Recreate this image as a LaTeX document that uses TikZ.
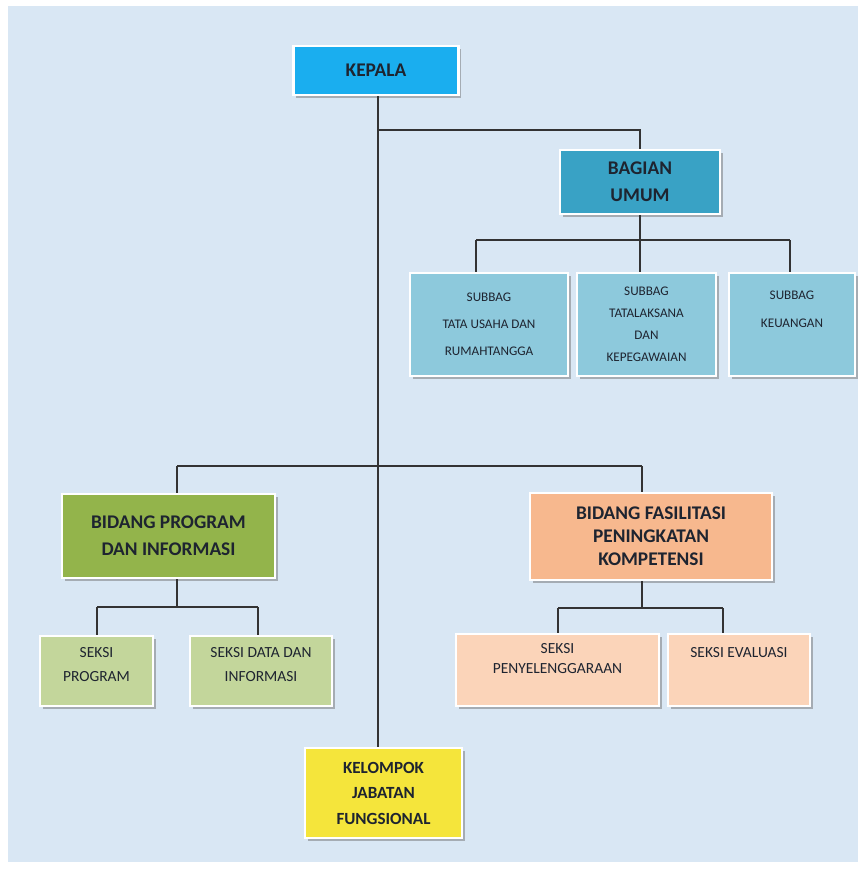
\documentclass[tikz,border=0pt]{standalone}
\usepackage{fontspec}
\setmainfont{Carlito}
\usetikzlibrary{shadows}
\definecolor{bgblue}{HTML}{D9E7F4}
\definecolor{kepalablue}{HTML}{1AAEEF}
\definecolor{umumblue}{HTML}{39A2C5}
\definecolor{subblue}{HTML}{8DC9DC}
\definecolor{progreen}{HTML}{93B44B}
\definecolor{seksigreen}{HTML}{C3D69B}
\definecolor{fasorange}{HTML}{F7B88E}
\definecolor{seksiorange}{HTML}{FBD4B9}
\definecolor{jfyellow}{HTML}{F5E53B}
\definecolor{inkdark}{HTML}{1E2430}
\tikzset{
  unit/.style={draw=white, line width=1.2pt, align=center, text=inkdark,
    inner sep=2pt, drop shadow={shadow xshift=1.5pt, shadow yshift=-1.5pt, fill=black!55}},
  headbox/.style={unit, font=\bfseries\fontsize{11}{15.5}\selectfont},
  smallbox/.style={unit, font=\fontsize{7.5}{15.5}\selectfont},
  seksibox/.style={unit, font=\fontsize{8.8}{13.5}\selectfont},
  conn/.style={draw=black!80, line width=0.9pt}
}
\begin{document}
\begin{tikzpicture}[x=0.02cm, y=-0.02cm]
% background
\fill[white] (0,0) rectangle (865,869);
\fill[bgblue] (8,6) rectangle (858,862);
\useasboundingbox (0,0) rectangle (865,869);

% top
\node[headbox, fill=kepalablue, minimum width=3.3cm, minimum height=0.98cm] (kepala) at (376,70.5) {KEPALA};
\node[headbox, fill=umumblue, minimum width=3.2cm, minimum height=1.28cm] (umum) at (640,182) {BAGIAN\\UMUM};

% subbag
\node[smallbox, fill=subblue, minimum width=3.16cm, minimum height=2.06cm] (sub1) at (489,324.5) {SUBBAG\\TATA USAHA DAN\\RUMAHTANGGA};
\node[smallbox, fill=subblue, minimum width=2.78cm, minimum height=2.06cm, font=\fontsize{7.5}{12.5}\selectfont] (sub2) at (646.5,324.5) {SUBBAG\\TATALAKSANA\\DAN\\KEPEGAWAIAN};
\node[smallbox, fill=subblue, minimum width=2.52cm, minimum height=2.06cm] (sub3) at (792,324.5) {SUBBAG\\KEUANGAN\\[2pt]\mbox{}};

% bidang
\node[headbox, fill=progreen, minimum width=4.26cm, minimum height=1.68cm] (progb) at (168.5,536) {BIDANG PROGRAM\\DAN INFORMASI};
\node[headbox, fill=fasorange, minimum width=4.84cm, minimum height=1.74cm, font=\bfseries\fontsize{11}{13}\selectfont] (fasb) at (651,536.5) {BIDANG FASILITASI\\PENINGKATAN\\KOMPETENSI};

% seksi
\node[seksibox, fill=seksigreen, minimum width=2.26cm, minimum height=1.4cm] (sprog) at (96.5,671) {SEKSI\\PROGRAM\\[-6pt]\mbox{}};
\node[seksibox, fill=seksigreen, minimum width=2.84cm, minimum height=1.4cm] (sdata) at (261,671) {SEKSI DATA DAN\\INFORMASI\\[-6pt]\mbox{}};
\node[seksibox, fill=seksiorange, minimum width=4.06cm, minimum height=1.44cm, font=\fontsize{8.8}{11.5}\selectfont] (speny) at (557.5,670) {SEKSI\\PENYELENGGARAAN\\[2pt]\mbox{}};
\node[seksibox, fill=seksiorange, minimum width=2.84cm, minimum height=1.44cm, font=\fontsize{8.8}{11.5}\selectfont] (seval) at (739,670) {SEKSI EVALUASI\\[8pt]\mbox{}};

% fungsional
\node[headbox, fill=jfyellow, minimum width=3.14cm, minimum height=1.8cm, font=\bfseries\fontsize{9.7}{14.5}\selectfont] (jf) at (383.5,793) {KELOMPOK\\JABATAN\\FUNGSIONAL};

% junctions
\coordinate (ju) at (378,130);
\coordinate (jsub) at (640,240);
\coordinate (jsa) at (476,240);
\coordinate (jsc) at (790,240);
\coordinate (jb) at (378,466);
\coordinate (jba) at (177,466);
\coordinate (jbb) at (642,466);
\coordinate (jpa) at (97,607);
\coordinate (jpb) at (258,607);
\coordinate (jfa) at (558,608);
\coordinate (jfb) at (723,608);

% connectors
\draw[conn] (ju |- kepala.south) -- (ju |- jf.north);
\draw[conn] (ju) -| (umum.north);
\draw[conn] (umum.south) -- (jsub);
\draw[conn] (jsa) -- (jsc);
\draw[conn] (jsa) -- (jsa |- sub1.north);
\draw[conn] (jsub) -- (jsub |- sub2.north);
\draw[conn] (jsc) -- (jsc |- sub3.north);
\draw[conn] (jba) -- (jbb);
\draw[conn] (jba) -- (jba |- progb.north);
\draw[conn] (jbb) -- (jbb |- fasb.north);
\draw[conn] (jba |- progb.south) -- (jba |- jpa);
\draw[conn] (jpa) -- (jpb);
\draw[conn] (jpa) -- (jpa |- sprog.north);
\draw[conn] (jpb) -- (jpb |- sdata.north);
\draw[conn] (jbb |- fasb.south) -- (jbb |- jfa);
\draw[conn] (jfa) -- (jfb);
\draw[conn] (jfa) -- (jfa |- speny.north);
\draw[conn] (jfb) -- (jfb |- seval.north);
\end{tikzpicture}
\end{document}
